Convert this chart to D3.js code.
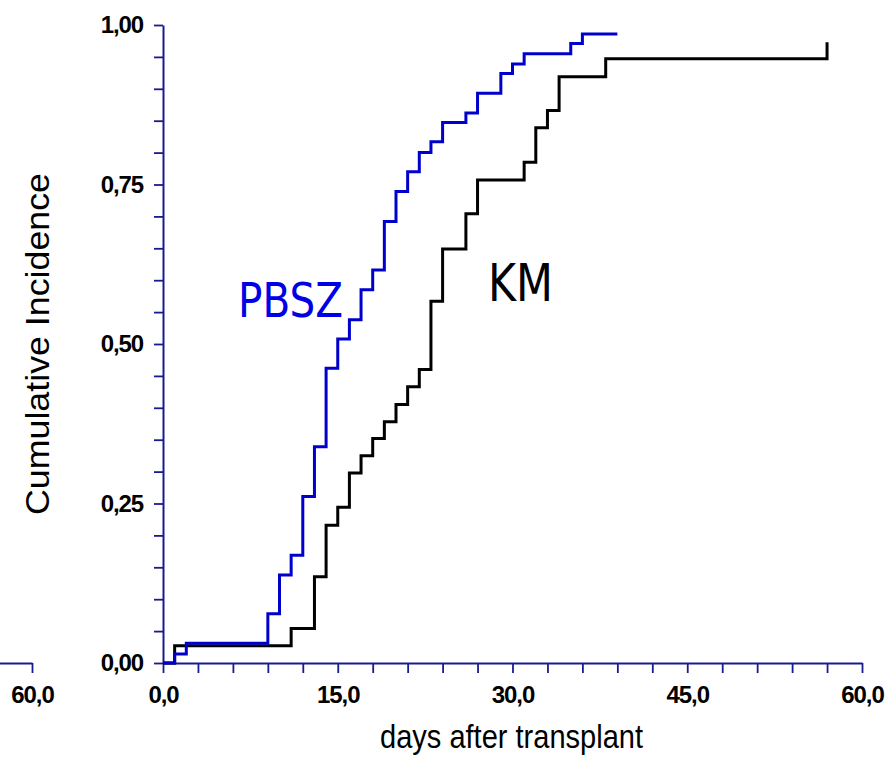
<!DOCTYPE html>
<html>
<head>
<meta charset="utf-8">
<script src="https://cdn.jsdelivr.net/npm/d3@7"></script>
<style>
	body { margin: 0; background: #fff; }
	.axis path, .axis line { stroke: #1a1a8f; }
	.axis text { font-family: "Liberation Sans", Arial, sans-serif; font-weight: bold; font-size: 24px; fill: #000; letter-spacing: -1.1px; }
</style>
</head>
<body>
<div id="chart"></div>
<script>

// step points (day, cumulative incidence)
var pbszDays   = [0, 1, 2, 9, 10, 11, 12, 13, 14, 15, 16, 17, 18, 19, 20, 21, 22, 23, 24, 26, 27, 29, 30, 31, 35, 36, 39];
var pbszValues = [0, 0.014, 0.031, 0.077, 0.138, 0.169, 0.261, 0.339, 0.462, 0.508, 0.538, 0.585, 0.616, 0.692, 0.739, 0.770, 0.800, 0.817, 0.847, 0.862, 0.893, 0.924, 0.939, 0.955, 0.971, 0.986, 0.986];

var kmDays   = [0, 1, 11, 13, 14, 15, 16, 17, 18, 19, 20, 21, 22, 23, 24, 26, 27, 31, 32, 33, 34, 38, 57];
var kmValues = [0, 0.027, 0.054, 0.135, 0.216, 0.244, 0.298, 0.325, 0.352, 0.378, 0.405, 0.433, 0.460, 0.567, 0.649, 0.704, 0.757, 0.785, 0.839, 0.866, 0.919, 0.947, 0.973];

// axis ticks
var xTicks      = d3.range(0, 61, 3);
var xTickLabels = [0, 15, 30, 45, 60];
var yTicks      = d3.range(0, 1.001, 0.05);
var yTickLabels = [0, 0.25, 0.5, 0.75, 1];

var seriesNames = ["PBSZ", "KM"];

// set chart dimensions
var margin = { top: 25, left: 163 };
var width = 699;
var height = 638;

// comma decimal formats
var locale = d3.formatLocale({ decimal: ",", thousands: ".", grouping: [3], currency: ["", ""] });
var fmtX = locale.format(".1f");
var fmtY = locale.format(".2f");

// set scales and axes
var x = d3.scaleLinear().domain([0, 60]).range([0, width]);
var y = d3.scaleLinear().domain([0, 1]).range([height, 0]);

var xAxis = d3.axisBottom(x)
	.tickValues(xTicks)
	.tickSizeInner(10)
	.tickSizeOuter(0)
	.tickPadding(13)
	.tickFormat(function(d) { return xTickLabels.indexOf(d) >= 0 ? fmtX(d) : ""; });

var yAxis = d3.axisLeft(y)
	.tickValues(yTicks)
	.tickSizeInner(9)
	.tickSizeOuter(0)
	.tickPadding(11)
	.tickFormat(function(d) {
		var hit = yTickLabels.some(function(v) { return Math.abs(v - d) < 1e-6; });
		return hit ? fmtY(d) : "";
	});

var svg = d3.select("#chart")
  .append("svg")
	.attr("width", 889)
	.attr("height", 760);

// leftover axis piece on the far left (end of a neighbouring chart)
var xPrev = d3.scaleLinear().domain([0, 60]).range([32 - width, 32]);
svg.append("g")
	.attr("class", "x axis prev")
	.attr("transform", "translate(0," + (margin.top + height) + ")")
	.call(d3.axisBottom(xPrev).tickValues([60]).tickSizeInner(10).tickSizeOuter(0).tickPadding(13).tickFormat(fmtX));

var chart = svg.append("g")
	.attr("transform", "translate(" + margin.left + "," + margin.top + ")");

// draw the X-axis
chart.append("g")
	.attr("class", "x axis")
	.attr("transform", "translate(0," + height + ")")
	.call(xAxis);

// draw the Y-axis
chart.append("g")
	.attr("class", "y axis")
	.call(yAxis);

svg.selectAll(".axis path").attr("stroke-width", 2);
svg.selectAll(".axis line").attr("stroke-width", 1.8);

// step lines
var line = d3.line()
	.curve(d3.curveStepAfter)
	.x(function(d) { return x(d[0]); })
	.y(function(d) { return y(d[1]); });

var kmData = d3.zip(kmDays, kmValues);
var pbszData = d3.zip(pbszDays, pbszValues);

chart.append("path")
	.datum(kmData)
	.attr("fill", "none")
	.attr("stroke", "#000")
	.attr("stroke-width", 3)
	.attr("d", line);

chart.append("path")
	.datum(pbszData)
	.attr("fill", "none")
	.attr("stroke", "#0000cc")
	.attr("stroke-width", 3)
	.attr("d", line);

// series labels
chart.append("text")
	.attr("x", 75)
	.attr("y", 292)
	.attr("textLength", 105)
	.attr("lengthAdjust", "spacingAndGlyphs")
	.style("font-family", "'DejaVu Sans', Verdana, sans-serif")
	.style("font-size", "48px")
	.style("fill", "#0000e6")
	.text(seriesNames[0]);

chart.append("text")
	.attr("x", 325)
	.attr("y", 276)
	.attr("textLength", 65)
	.attr("lengthAdjust", "spacingAndGlyphs")
	.style("font-family", "'DejaVu Sans', Verdana, sans-serif")
	.style("font-size", "52px")
	.style("fill", "#000")
	.text(seriesNames[1]);

// axis titles
svg.append("text")
	.attr("x", 380)
	.attr("y", 748)
	.attr("textLength", 263)
	.attr("lengthAdjust", "spacingAndGlyphs")
	.style("font-family", "'Liberation Sans', Arial, sans-serif")
	.style("font-size", "34px")
	.text("days after transplant");

svg.append("text")
	.attr("transform", "translate(49,344) rotate(-90)")
	.attr("text-anchor", "middle")
	.attr("textLength", 342)
	.attr("lengthAdjust", "spacingAndGlyphs")
	.style("font-family", "'Liberation Sans', Arial, sans-serif")
	.style("font-size", "33px")
	.text("Cumulative Incidence");

</script>
</body>
</html>
